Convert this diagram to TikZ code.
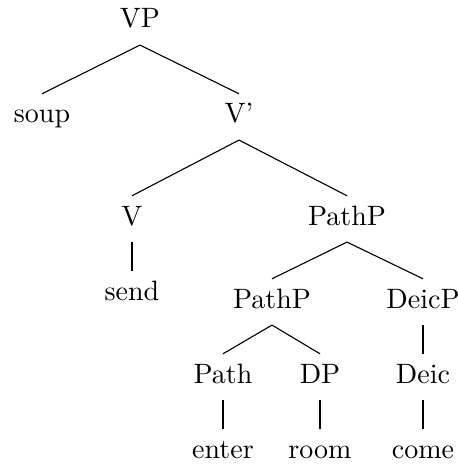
\documentclass[tikz,border=0pt]{standalone}
\usepackage{tikz}
\usetikzlibrary{positioning}

\begin{document}
\begin{tikzpicture}[x=0.357pt,y=-0.357pt,line width=0.4pt]
\tikzstyle{cat}=[anchor=base, inner xsep=2pt, inner ysep=3.4pt, text height=6.83pt, text depth=2.5pt]
\useasboundingbox (0,0) rectangle (458,465);
\node[cat] (vp) at (140,28) {VP};
\node[cat] (soup) at (42,123) {soup};
\node[cat] (vbar) at (239,123) {V'};
\node[cat] (v) at (132,225) {V};
\node[cat] (pathp) at (347,225) {PathP};
\node[cat] (send) at (132,300) {send};
\node[cat] (pathpl) at (272,308) {PathP};
\node[cat] (deicp) at (423,308) {DeicP};
\node[cat] (path) at (223,383) {Path};
\node[cat] (dp) at (320,383) {DP};
\node[cat] (deic) at (423,383) {Deic};
\node[cat] (enter) at (223,458) {enter};
\node[cat] (room) at (320,458) {room};
\node[cat] (come) at (423,458) {come};
\draw (vp.south) -- (soup.north);
\draw (vp.south) -- (vbar.north);
\draw (vbar.south) -- (v.north);
\draw (vbar.south) -- (pathp.north);
\draw (v.south) -- (send.north);
\draw (pathp.south) -- (pathpl.north);
\draw (pathp.south) -- (deicp.north);
\draw (pathpl.south) -- (path.north);
\draw (pathpl.south) -- (dp.north);
\draw (deicp.south) -- (deic.north);
\draw (path.south) -- (enter.north);
\draw (dp.south) -- (room.north);
\draw (deic.south) -- (come.north);
\end{tikzpicture}
\end{document}
